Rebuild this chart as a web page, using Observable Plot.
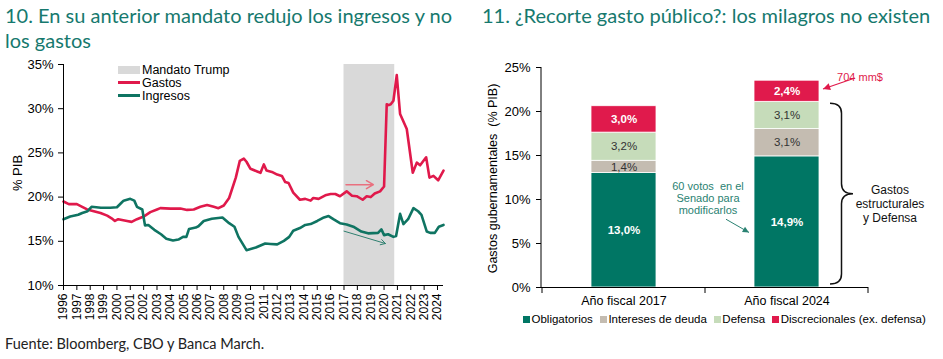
<!DOCTYPE html>
<html><head><meta charset="utf-8">
<script src="https://cdn.jsdelivr.net/npm/d3@7"></script>
<script src="https://cdn.jsdelivr.net/npm/@observablehq/plot@0.6"></script>
<style>
html,body{margin:0;padding:0;background:#fff;}
#root{position:relative;width:943px;height:359px;overflow:hidden;font-family:"Liberation Sans",Arial,sans-serif;color:#000;}
.title{position:absolute;font-family:Lato,"Open Sans",sans-serif;color:#16796e;font-size:20px;line-height:25px;white-space:nowrap;}
.abs{position:absolute;}
.lg{position:absolute;font-size:12.5px;line-height:16px;white-space:nowrap;}
#rlegend{position:absolute;left:523px;top:311px;display:flex;gap:7px;font-size:11.5px;line-height:16px;white-space:nowrap;}
#rlegend span.sw{display:inline-block;width:7px;height:7px;margin-right:1.5px;vertical-align:0px;}
#footer{position:absolute;left:5px;top:335px;font-family:Lato,"Open Sans",sans-serif;font-size:14.5px;color:#222;white-space:nowrap;}
</style></head>
<body><div id="root">
<div class="title" style="left:5px;top:3px;">10. En su anterior mandato redujo los ingresos y no<br>los gastos</div>
<div class="title" style="left:482px;top:3px;">11. ¿Recorte gasto público?: los milagros no existen</div>
<div id="left" class="abs" style="left:0;top:55px;"></div>
<div id="right" class="abs" style="left:470px;top:55px;"></div>
<div id="llegend"></div>
<div id="rlegend"></div>
<div id="footer">Fuente: Bloomberg, CBO y Banca March.</div>
</div>
<script>
// ---------- Data: chart 10 ----------
const years = d3.range(1996, 2025);
const yTicksLeft = [10, 15, 20, 25, 30, 35];
const yDomainLeft = [10, 35];
const trumpTerm = [{start: 2017, end: 2020.8}];
const seriesNames = ["Mandato Trump", "Gastos", "Ingresos"];
const gastosSeries = [
[1996.0,19.5],[1996.4,19.2],[1997.0,19.2],[1997.4,18.9],[1997.77,18.6],[1998.27,18.4],[1998.77,18.2],[1999.27,17.9],
[1999.6,17.6],[1999.85,17.3],[2000.1,17.5],[2000.76,17.3],[2001.1,17.2],[2001.5,17.5],[2002.0,17.8],[2002.5,18.3],
[2003.0,18.6],[2003.25,18.75],[2004.0,18.7],[2004.75,18.7],[2005.25,18.55],[2005.75,18.6],[2006.25,18.9],[2006.75,19.1],
[2007.25,18.9],[2007.6,18.75],[2008.0,19.05],[2008.4,19.9],[2008.9,22.2],[2009.2,24.1],[2009.5,24.35],[2009.7,24.0],
[2010.0,23.2],[2010.5,22.9],[2010.75,22.75],[2011.0,23.7],[2011.2,23.0],[2011.6,22.85],[2012.0,22.55],[2012.35,22.4],
[2012.6,21.7],[2012.85,21.6],[2013.2,20.5],[2013.7,19.7],[2014.1,19.8],[2014.5,19.6],[2014.7,19.9],[2015.1,19.8],
[2015.6,20.2],[2016.0,20.35],[2016.35,20.35],[2016.7,20.1],[2017.2,20.65],[2017.6,20.15],[2017.95,20.1],[2018.4,19.7],
[2018.7,20.1],[2019.0,20.0],[2019.3,20.4],[2019.7,20.65],[2020.0,21.2],[2020.2,30.5],[2020.35,30.4],[2020.5,30.5],
[2020.7,30.9],[2020.95,33.8],[2021.2,29.4],[2021.7,27.7],[2022.15,22.75],[2022.45,23.9],[2022.7,23.6],[2023.15,24.5],
[2023.4,22.2],[2023.7,22.4],[2024.05,21.9],[2024.45,23.0]
];
const ingresosSeries = [
[1996.0,17.5],[1996.5,17.8],[1997.1,18.0],[1997.4,18.2],[1997.8,18.4],[1998.1,18.9],[1998.8,18.8],[1999.5,18.8],
[2000.0,18.85],[2000.3,19.3],[2000.5,19.6],[2001.0,19.8],[2001.3,19.6],[2001.5,18.9],[2001.9,18.6],[2002.1,16.8],
[2002.35,16.85],[2002.8,16.3],[2003.3,15.8],[2003.7,15.3],[2004.2,15.1],[2004.6,15.2],[2004.95,15.5],[2005.2,15.5],
[2005.4,16.4],[2005.9,16.55],[2006.1,16.7],[2006.5,17.3],[2007.1,17.55],[2007.9,17.7],[2008.4,17.05],[2008.8,16.65],
[2009.1,15.5],[2009.7,14.0],[2010.4,14.3],[2011.1,14.75],[2011.5,14.7],[2012.0,14.65],[2012.5,15.05],[2012.9,15.5],
[2013.2,16.2],[2013.7,16.5],[2014.1,16.85],[2014.5,16.95],[2015.0,17.3],[2015.5,17.7],[2015.85,17.85],[2016.2,17.5],
[2016.7,17.05],[2017.2,16.9],[2017.7,16.65],[2018.3,16.1],[2018.8,15.9],[2019.55,15.95],[2019.8,16.35],[2020.0,15.7],
[2020.3,15.8],[2020.7,15.5],[2020.9,15.6],[2021.2,18.1],[2021.45,16.95],[2021.8,17.5],[2022.2,18.75],[2022.55,18.4],
[2022.8,18.0],[2023.2,16.1],[2023.45,15.95],[2023.8,15.95],[2024.1,16.65],[2024.45,16.85]
];
const gastosArrow = [{x1: 2017.15, x2: 2019.2, y1: 21.4, y2: 21.4}];
const ingresosArrow = [{x1: 2017.0, x2: 2020.1, y1: 16.15, y2: 14.75}];

// ---------- Data: chart 11 ----------
const fiscalYears = ["Año fiscal 2017", "Año fiscal 2024"];
const components = ["Obligatorios", "Intereses de deuda", "Defensa", "Discrecionales (ex. defensa)"];
const obligatorios = [13.0, 14.9];
const intereses = [1.4, 3.1];
const defensa = [3.2, 3.1];
const discrecionales = [3.0, 2.4];
const yTicksRight = [0, 5, 10, 15, 20, 25];
const annotTop = "704 mm$";
const annotSenate = ["60 votos  en el", "Senado para", "modificarlos"];
const annotBrace = ["Gastos", "estructurales", "y Defensa"];

// ---------- Styles ----------
const RED = "#e0194b", GREEN = "#0f7462", GREY = "#d9d9d9";
const compColors = ["#007664", "#c4bcb1", "#c6dcba", "#e01a4c"];
const FONT = "'Liberation Sans', Arial, sans-serif";
const pct = d => d + "%";
const fmtPct = v => d3.format(".1f")(v).replace(".", ",") + "%";

// ---------- Chart 10 ----------
const toObj = s => s.map(([t, v]) => ({t, v}));
const left = Plot.plot({
  width: 460, height: 275,
  marginLeft: 63, marginRight: 17, marginTop: 9, marginBottom: 45,
  style: {fontFamily: FONT, background: "transparent", color: "#000", overflow: "visible"},
  x: {domain: [1996, 2024.45]},
  y: {domain: yDomainLeft},
  marks: [
    Plot.rect(trumpTerm, {x1: "start", x2: "end", y1: yDomainLeft[0], y2: yDomainLeft[1], fill: GREY}),
    Plot.line(toObj(gastosSeries), {x: "t", y: "v", stroke: RED, strokeWidth: 2.6}),
    Plot.line(toObj(ingresosSeries), {x: "t", y: "v", stroke: GREEN, strokeWidth: 2.6}),
    Plot.arrow(gastosArrow, {x1: "x1", y1: "y1", x2: "x2", y2: "y2", stroke: "#e9707f", strokeWidth: 1.5, headLength: 8}),
    Plot.arrow(ingresosArrow, {x1: "x1", y1: "y1", x2: "x2", y2: "y2", stroke: "#2f8070", strokeWidth: 1, headLength: 8}),
    Plot.axisX({ticks: years, tickFormat: d => String(d), tickRotate: -90, tickSize: 5, tickPadding: 3, fontSize: 12, label: null}),
    Plot.axisY({ticks: yTicksLeft, tickFormat: pct, tickSize: 5, tickPadding: 5, fontSize: 13, label: null}),
    Plot.ruleY([yDomainLeft[0]], {stroke: "#000"}),
    Plot.ruleX([1996], {stroke: "#000"}),
    Plot.text(["% PIB"], {frameAnchor: "left", textAnchor: "middle", rotate: -90, dx: -46, dy: -2, fontSize: 13, text: d => d})
  ]
});
document.getElementById("left").appendChild(left);

// legend chart 10 (HTML)
const ll = document.getElementById("llegend");
const legendItems = [
  {name: seriesNames[0], kind: "box", color: GREY, top: 62},
  {name: seriesNames[1], kind: "line", color: RED, top: 74.5},
  {name: seriesNames[2], kind: "line", color: GREEN, top: 87.5}
];
legendItems.forEach(it => {
  const sw = document.createElement("div");
  sw.className = "abs";
  sw.style.left = "118px";
  sw.style.width = "22px";
  sw.style.background = it.color;
  if (it.kind === "box") { sw.style.top = (it.top + 4) + "px"; sw.style.height = "8px"; }
  else { sw.style.top = (it.top + 6.5) + "px"; sw.style.height = "3px"; }
  ll.appendChild(sw);
  const tx = document.createElement("div");
  tx.className = "lg";
  tx.style.left = "142px";
  tx.style.top = it.top + "px";
  tx.textContent = it.name;
  ll.appendChild(tx);
});

// ---------- Chart 11 ----------
const rows = [];
fiscalYears.forEach((year, i) => {
  const vals = [obligatorios[i], intereses[i], defensa[i], discrecionales[i]];
  let acc = 0;
  vals.forEach((v, k) => {
    rows.push({year, component: components[k], k, value: v, y1: acc, y2: acc + v, mid: acc + v / 2, label: fmtPct(v)});
    acc += v;
  });
});
const barInset = 49;

function annotations(index, scales, values, dims) {
  const X = scales.x, Y = scales.y;
  const L = dims.marginLeft, R = dims.width - dims.marginRight;
  const n = fiscalYears.length;
  const bw = (X.bandwidth && typeof X.bandwidth === "function") ? X.bandwidth() : (R - L) / n;
  const x0 = X(fiscalYears[0]);
  const isStart = Math.abs(x0 - L) < Math.abs(x0 - (L + bw / 2));
  const bandStart = d => X(d) - (isStart ? 0 : bw / 2);
  const g = d3.create("svg:g").attr("font-family", FONT);
  const y0 = Y(0);
  // frame: left axis line and category boundary ticks
  g.append("line").attr("x1", L).attr("x2", L).attr("y1", Y(yTicksRight[yTicksRight.length - 1])).attr("y2", y0).attr("stroke", "#000");
  const bounds = fiscalYears.map(bandStart).concat([bandStart(fiscalYears[n - 1]) + bw]);
  g.selectAll("line.b").data(bounds).join("line").attr("x1", d => d).attr("x2", d => d)
    .attr("y1", y0).attr("y2", y0 + 6).attr("stroke", "#000");
  const bLeft = bandStart(fiscalYears[1]) + barInset;
  const bRight = bandStart(fiscalYears[1]) + bw - barInset;
  const total = obligatorios[1] + intereses[1] + defensa[1] + discrecionales[1];
  const struct = obligatorios[1] + intereses[1] + defensa[1];
  // brace
  const top = Y(struct) + 2, bot = Y(0) - 3, mid = (top + bot) / 2;
  const xa = bRight + 11, xm = xa + 11.5, xt = xa + 23, r = 10;
  g.append("path").attr("fill", "none").attr("stroke", "#111").attr("stroke-width", 1.5)
    .attr("d", `M${xa},${top} Q${xm},${top} ${xm},${top + r} L${xm},${mid - r} Q${xm},${mid} ${xt},${mid} Q${xm},${mid} ${xm},${mid + r} L${xm},${bot - r} Q${xm},${bot} ${xa},${bot}`);
  const tb = g.append("text").attr("text-anchor", "middle").attr("font-size", 12).attr("fill", "#111");
  annotBrace.forEach((s, i) => tb.append("tspan").attr("x", bRight + 71).attr("y", mid + 0.5 + i * 13.8).text(s));
  // 704 mm$ arrow
  const arrow = (xA, yA, xB, yB, color, w, hl) => {
    g.append("line").attr("x1", xA).attr("y1", yA).attr("x2", xB).attr("y2", yB).attr("stroke", color).attr("stroke-width", w);
    const ang = Math.atan2(yB - yA, xB - xA), a = Math.PI / 7;
    const p1 = [xB - hl * Math.cos(ang - a), yB - hl * Math.sin(ang - a)];
    const p2 = [xB - hl * Math.cos(ang + a), yB - hl * Math.sin(ang + a)];
    g.append("path").attr("d", `M${xB},${yB}L${p1[0]},${p1[1]}L${p2[0]},${p2[1]}Z`).attr("fill", color);
  };
  arrow(bRight + 36, Y(total + 0.25), bRight + 4, Y(total - 1.0), RED, 1.3, 8);
  g.append("text").attr("x", bRight + 41).attr("y", Y(total) + 0.5).attr("font-size", 11).attr("fill", RED).text(annotTop);
  // senate note + arrow
  const ts = g.append("text").attr("text-anchor", "middle").attr("font-size", 11).attr("fill", "#2a8272");
  annotSenate.forEach((s, i) => ts.append("tspan").attr("x", bandStart(fiscalYears[1]) + 3).attr("y", Y(10.1) - 8 + i * 12).text(s));
  arrow(bLeft - 28, Y(7.7), bLeft - 5, Y(6.2), "#2a8272", 1, 7);
  return g.node();
}

const right = Plot.plot({
  width: 473, height: 262,
  marginLeft: 71, marginRight: 75, marginTop: 12, marginBottom: 30,
  style: {fontFamily: FONT, background: "transparent", color: "#000", overflow: "visible"},
  x: {domain: fiscalYears, padding: 0},
  y: {domain: [0, 25]},
  color: {domain: components, range: compColors},
  marks: [
    Plot.barY(rows, {x: "year", y1: "y1", y2: "y2", fill: "component", insetLeft: barInset, insetRight: barInset, stroke: "#fff", strokeWidth: 0.8}),
    Plot.text(rows.filter(d => d.k === 0 || d.k === 3), {x: "year", y: "mid", text: "label", fill: "#fff", fontWeight: "bold", fontSize: 11.5}),
    Plot.text(rows.filter(d => d.k === 1 || d.k === 2), {x: "year", y: "mid", text: "label", fill: "#333", fontSize: 11.5}),
    Plot.axisY({ticks: yTicksRight, tickFormat: pct, tickSize: 5, tickPadding: 6, fontSize: 13, label: null}),
    Plot.axisX({tickSize: 0, tickPadding: 9, fontSize: 12.5, label: null}),
    Plot.ruleY([0], {stroke: "#000"}),
    annotations,
    Plot.text(["Gastos gubernamentales  (% PIB)"], {frameAnchor: "left", textAnchor: "middle", rotate: -90, dx: -49, dy: 1, fontSize: 12.5, text: d => d})
  ]
});
document.getElementById("right").appendChild(right);

// legend chart 11
const rl = document.getElementById("rlegend");
components.forEach((c, i) => {
  const item = document.createElement("div");
  const sw = document.createElement("span");
  sw.className = "sw";
  sw.style.background = compColors[i];
  item.appendChild(sw);
  item.appendChild(document.createTextNode(c));
  rl.appendChild(item);
});
</script>
</body></html>
